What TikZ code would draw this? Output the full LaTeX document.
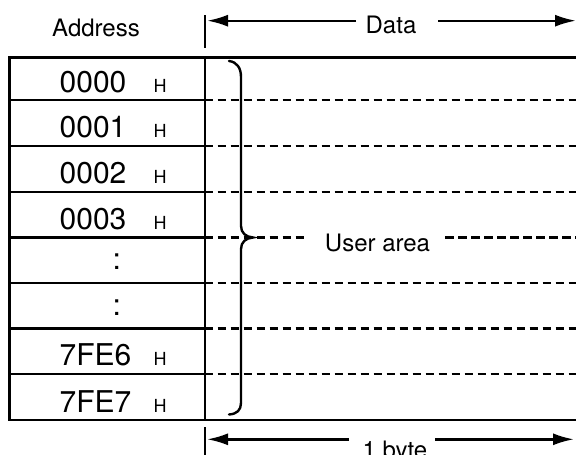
\documentclass[tikz,border=0pt]{standalone}
\usepackage{fontspec}
\setmainfont{TeX Gyre Heros}
\usetikzlibrary{arrows.meta}
\tikzset{
  solidline/.style={line width=2.4pt, line cap=butt},
  dashline/.style={line width=2.4pt, dash pattern=on 8.5pt off 4.5pt},
  bracepath/.style={line width=2.4pt, line cap=round},
  arr/.style={line width=2.4pt, -{Latex[length=21pt,width=12pt]}},
  lbl/.style={inner sep=0pt, anchor=base, font=\fontsize{24}{28}\selectfont},
  num/.style={inner sep=0pt, anchor=base west, font=\fontsize{30}{34}\selectfont},
  hh/.style={inner sep=0pt, anchor=base, font=\fontsize{18}{20}\selectfont},
}
\begin{document}
\begin{tikzpicture}[x=1pt,y=-1pt]
\useasboundingbox (0,0) rectangle (576,455);
% frame
\coordinate (tl) at (9.3,57.3);
\coordinate (tr) at (576,57.3);
\coordinate (bl) at (9.3,420);
\coordinate (br) at (576,420);
\coordinate (dt) at (204.7,57.3);
\coordinate (db) at (204.7,420);
\draw[solidline] (tl) -- (tr);
\draw[solidline] (bl) -- (br);
\draw[solidline] ([yshift=1.2pt]tl) -- ([yshift=-1.2pt]bl);
\draw[solidline] (dt) -- (db);
% row lines
\foreach \y/\n in {100/a,146/b,192/c,237.5/d,283/e,328.5/f,374/g}{
  \coordinate (L\n) at (9.3,\y);
  \coordinate (M\n) at (204.7,\y);
  \coordinate (R\n) at (576,\y);
  \draw[solidline] (L\n) -- (M\n);
}
\foreach \n in {a,b,c,e,f,g}{
  \draw[dashline] (M\n) -- (R\n);
}
% user area
\node[lbl] (user) at (377.5,251.7) {User area};
\coordinate (ud1) at (306.7,237.5);
\coordinate (ud2) at (445,237.5);
\draw[dashline] (Md) -- (ud1);
\draw[dashline] (ud2) -- (Rd);
% brace
\draw[bracepath] (229,61) .. controls (237,62) and (241,68) .. (241,77)
  -- (241,226) .. controls (241,233) and (246,237) .. (253,237.5)
  .. controls (246,238) and (241,242) .. (241,249)
  -- (241,403) .. controls (241,410) and (237,414) .. (229,414.5);
% address labels
\node[lbl] (addr) at (96,36.7) {Address};
\node[num] (r0) at (59.5,92.7) {0000};
\node[hh] (h0) at (160,92.7) {H};
\node[num] (r1) at (59.5,137) {0001};
\node[hh] (h1) at (160,137) {H};
\node[num] (r2) at (59.5,183) {0002};
\node[hh] (h2) at (160,183) {H};
\node[num] (r3) at (59.5,229) {0003};
\node[hh] (h3) at (160,229) {H};
\node[inner sep=0pt, anchor=base, font=\fontsize{30}{34}\selectfont] (r4) at (116.8,269) {:};
\node[inner sep=0pt, anchor=base, font=\fontsize{30}{34}\selectfont] (r5) at (116.8,315) {:};
\node[num] (r6) at (59.5,365) {7FE6};
\node[hh] (h6) at (160,365) {H};
\node[num] (r7) at (59.5,412.5) {7FE7};
\node[hh] (h7) at (160,412.5) {H};
% top dimension
\coordinate (tt1) at (205,15);
\coordinate (tt2) at (205,47.7);
\draw[solidline] (tt1) -- (tt2);
\node[lbl] (data) at (391,33.3) {Data};
\coordinate (da1) at (356,20.7);
\coordinate (da2) at (207,20.7);
\coordinate (da3) at (438.3,20.7);
\coordinate (da4) at (576,20.7);
\draw[arr] (da1) -- (da2);
\draw[arr] (da3) -- (da4);
% bottom dimension
\coordinate (bt1) at (205,427);
\coordinate (bt2) at (205,460);
\draw[solidline] (bt1) -- (bt2);
\node[lbl] (byte) at (395,458) {1 byte};
\coordinate (ba1) at (349,439.3);
\coordinate (ba2) at (207,439.3);
\coordinate (ba3) at (435,439.3);
\coordinate (ba4) at (574,439.3);
\draw[arr] (ba1) -- (ba2);
\draw[arr] (ba3) -- (ba4);
\end{tikzpicture}
\end{document}
